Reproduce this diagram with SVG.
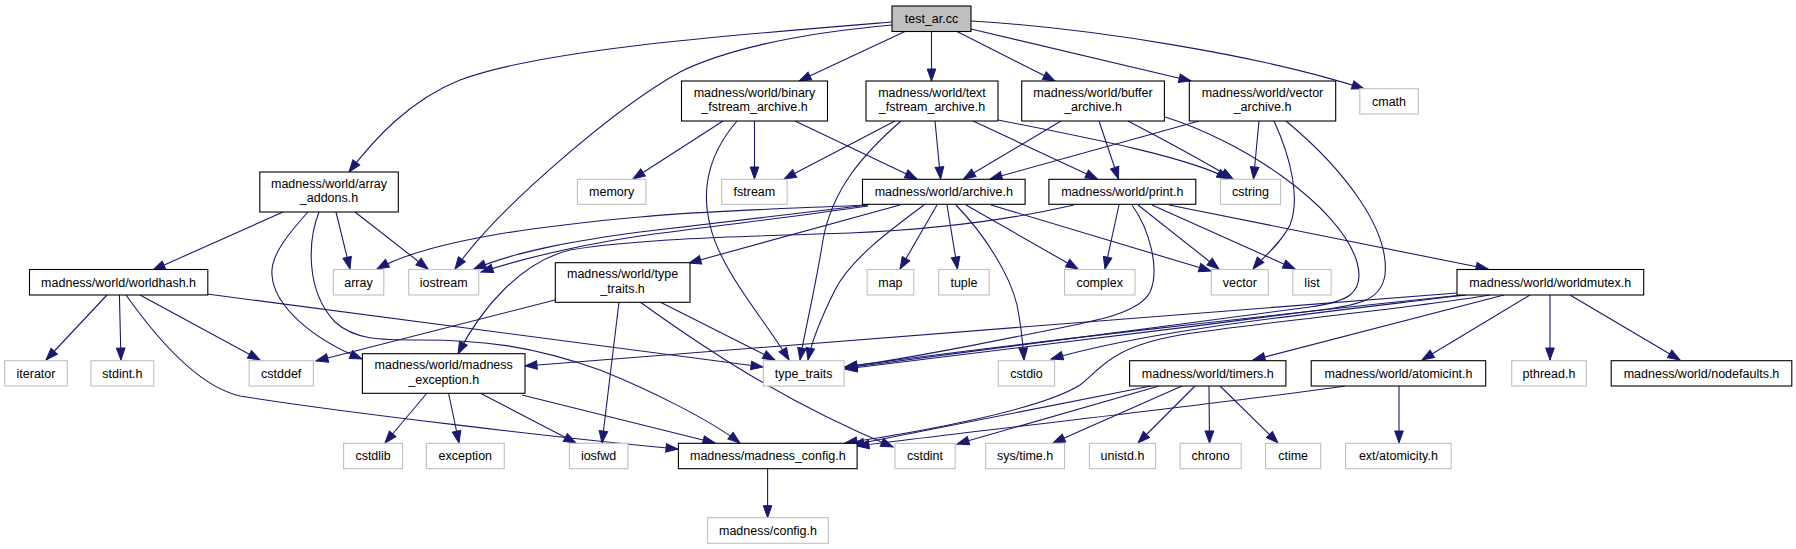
<svg xmlns="http://www.w3.org/2000/svg" width="1796" height="549" viewBox="0 0 1796 549">
<style>
.n rect{fill:#fff;stroke:#000;stroke-width:1.1}
.r rect{fill:#bfbfbf;stroke:#000;stroke-width:1.1}
.x rect{fill:#fff;stroke:#bfbfbf;stroke-width:1.1}
text{font-family:"Liberation Sans",Arial,Helvetica,sans-serif;font-size:12.5px;text-anchor:middle;fill:#000}
#edges path{fill:none;stroke:#191970;stroke-width:1.1;marker-end:url(#a)}
</style>
<defs>
<marker id="a" markerWidth="12" markerHeight="9" refX="12" refY="4.5" orient="auto" markerUnits="userSpaceOnUse" overflow="visible">
<path d="M0,0.2 L12,4.5 L0,8.8 z" fill="#191970" stroke="#191970" stroke-width="1"/>
</marker>
</defs>
<rect width="1796" height="549" fill="#fff"/>
<g id="edges">
<path d="M892,22 C720,36 540,50 460,80 C410,100 375,138 349,172"/>
<path d="M892,25 C790,34 720,52 680,72 C620,105 500,205 455,269"/>
<path d="M906,31 L799,81"/>
<path d="M931.5,31.3 L931.5,81"/>
<path d="M956,31 L1055,81"/>
<path d="M971,29 L1191,81"/>
<path d="M971,21 C1090,28 1260,55 1364,88.7"/>
<path d="M723,121 L633,179"/>
<path d="M754.5,121 L754.5,179"/>
<path d="M795,121 L917,179"/>
<path d="M737,121 C712,150 700,185 710,225 C720,270 765,320 789,360"/>
<path d="M895,121 L784,179"/>
<path d="M935,121 L940.6,179"/>
<path d="M973,121 L1097.5,179"/>
<path d="M998,120 C1100,140 1190,158 1229,179"/>
<path d="M901,121 C862,155 832,190 823,240 C815,290 805,330 800,360"/>
<path d="M1061,121 L963.5,179"/>
<path d="M1099,121 L1118.5,179"/>
<path d="M1128,121 C1170,143 1205,162 1233,179"/>
<path d="M1165,117 C1240,140 1340,205 1357,262 C1366,295 1345,302 1310,307 C1150,328 950,355 845,368"/>
<path d="M1199,121 L990,179"/>
<path d="M1259,121 L1253.5,179"/>
<path d="M1274,121 C1292,160 1300,200 1290,225 C1280,245 1262,258 1253,269"/>
<path d="M1286,121 C1345,170 1390,230 1385,275 C1381,300 1360,305 1320,310 C1150,332 950,357 845,369"/>
<path d="M868,205 C780,209 700,211 640,217 C540,226 430,240 377,269"/>
<path d="M868,205 C800,213 700,225 640,232 C580,240 520,250 474,269"/>
<path d="M868,206 C800,216 700,228 640,236 C580,245 525,258 481,272"/>
<path d="M900,205 L689,263"/>
<path d="M937,205 L900,269"/>
<path d="M947,205 L957.5,269"/>
<path d="M956,205 C985,235 1010,275 1017,305 C1022,330 1023,345 1024,360"/>
<path d="M966,205 L1078,269"/>
<path d="M991,205 L1211,271"/>
<path d="M924,205 C890,230 850,260 835,290 C820,320 812,340 808,360"/>
<path d="M1074,205 C1000,222 920,230 850,233 C760,236 640,238 570,250 C520,262 480,310 458,354"/>
<path d="M1119,205 L1105,269"/>
<path d="M1138,205 L1219,269"/>
<path d="M1152,205 L1295,269"/>
<path d="M1132,205 C1150,230 1160,270 1150,292 C1140,312 1100,320 1060,328 C980,344 900,360 845,367"/>
<path d="M1169,205 L1488,269"/>
<path d="M283,212 L153,270"/>
<path d="M308,212 C290,232 270,255 272,275 C274,305 310,338 362,359"/>
<path d="M319,212 C308,240 305,290 335,322 C355,340 380,340 420,340 C480,340 530,345 600,370 C650,390 710,420 740,443"/>
<path d="M336,212 L350,269"/>
<path d="M355,212 L428,269"/>
<path d="M107,295 L46,360"/>
<path d="M119.4,295 L121,360"/>
<path d="M140,295 L260,360"/>
<path d="M126,295 C165,350 205,388 240,396 C340,412 560,438 678,449"/>
<path d="M207,294 L763,367"/>
<path d="M555,300 L316,361"/>
<path d="M619,302 L602,443"/>
<path d="M640,302 C700,345 780,400 893,447"/>
<path d="M660,302 L775,360"/>
<path d="M427,393 L385,443"/>
<path d="M448.5,393 L459,443"/>
<path d="M480,393 L576,443"/>
<path d="M522,395 L715,443"/>
<path d="M1457,293 L525,366"/>
<path d="M1462,295 C1300,312 1000,345 845,367"/>
<path d="M1466,295 C1300,315 1150,330 1051,359"/>
<path d="M1490,295 C1400,310 1260,322 1180,335 C1110,347 1100,370 1080,385 C1040,410 920,432 845,443"/>
<path d="M1151,386 L852,445"/>
<path d="M1345,386 C1250,400 1000,428 857,446"/>
<path d="M1159,386 L957,444"/>
<path d="M1182,386 L1053,443"/>
<path d="M1195,386 L1138,443"/>
<path d="M1209,386 L1209.5,443"/>
<path d="M1220,386 L1278,443"/>
<path d="M1504,295 L1253,360"/>
<path d="M1530,295 L1422,360"/>
<path d="M1550,295 L1550,360"/>
<path d="M1570,295 L1680,360"/>
<path d="M1399,386 L1399,443"/>
<path d="M767.6,469 L767.6,517.7"/>
</g>
<g id="test_ar" class="r"><rect x="892" y="6" width="79" height="25.5"/><text x="931.5" y="23">test_ar.cc</text></g>
<g id="binary" class="n"><rect x="681.5" y="81" width="146" height="40"/><text x="754.5" y="96.5">madness/world/binary</text><text x="754.5" y="111">_fstream_archive.h</text></g>
<g id="text_fstream" class="n"><rect x="866" y="81" width="132" height="40"/><text x="932" y="96.5">madness/world/text</text><text x="932" y="111">_fstream_archive.h</text></g>
<g id="buffer" class="n"><rect x="1021.7" y="81" width="142.7" height="40"/><text x="1093" y="96.5">madness/world/buffer</text><text x="1093" y="111">_archive.h</text></g>
<g id="vector_archive" class="n"><rect x="1189.3" y="81" width="146.4" height="40"/><text x="1262.5" y="96.5">madness/world/vector</text><text x="1262.5" y="111">_archive.h</text></g>
<g id="cmath" class="x"><rect x="1359.8" y="88.7" width="58.5" height="25.3"/><text x="1389" y="105.8">cmath</text></g>
<g id="array_addons" class="n"><rect x="259.8" y="172" width="138.5" height="40"/><text x="329" y="187.5">madness/world/array</text><text x="329" y="202">_addons.h</text></g>
<g id="memory" class="x"><rect x="577.4" y="179.3" width="68.5" height="25"/><text x="611.6" y="196.2">memory</text></g>
<g id="fstream" class="x"><rect x="721.7" y="179.3" width="65.4" height="25"/><text x="754.4" y="196.2">fstream</text></g>
<g id="archive" class="n"><rect x="862.5" y="179.3" width="162.6" height="25"/><text x="943.8" y="196.2">madness/world/archive.h</text></g>
<g id="print" class="n"><rect x="1048.9" y="179.3" width="146.9" height="25"/><text x="1122.3" y="196.2">madness/world/print.h</text></g>
<g id="cstring" class="x"><rect x="1220.5" y="179.3" width="60.1" height="25"/><text x="1250.5" y="196.2">cstring</text></g>
<g id="worldhash" class="n"><rect x="29.5" y="269.5" width="178.3" height="25.5"/><text x="118.6" y="286.6">madness/world/worldhash.h</text></g>
<g id="array" class="x"><rect x="333.3" y="269.5" width="50.5" height="25.5"/><text x="358.5" y="286.6">array</text></g>
<g id="iostream" class="x"><rect x="408.7" y="269.5" width="70" height="25.5"/><text x="443.7" y="286.6">iostream</text></g>
<g id="type_traits_h" class="n"><rect x="555.3" y="262.7" width="134.7" height="39.6"/><text x="622.6" y="278">madness/world/type</text><text x="622.6" y="292.5">_traits.h</text></g>
<g id="map" class="x"><rect x="867.1" y="269.5" width="46.7" height="25.5"/><text x="890.4" y="286.6">map</text></g>
<g id="tuple" class="x"><rect x="938.7" y="269.5" width="50.5" height="25.5"/><text x="964" y="286.6">tuple</text></g>
<g id="complex" class="x"><rect x="1064.5" y="269.5" width="70.5" height="25.5"/><text x="1099.7" y="286.6">complex</text></g>
<g id="vector" class="x"><rect x="1211.3" y="269.5" width="57" height="25.5"/><text x="1239.8" y="286.6">vector</text></g>
<g id="list" class="x"><rect x="1292.8" y="269.5" width="38.3" height="25.5"/><text x="1312" y="286.6">list</text></g>
<g id="worldmutex" class="n"><rect x="1457" y="269.5" width="186.7" height="25.5"/><text x="1550.3" y="286.6">madness/world/worldmutex.h</text></g>
<g id="iterator" class="x"><rect x="4.6" y="360.7" width="62.7" height="25.3"/><text x="36" y="377.7">iterator</text></g>
<g id="stdint" class="x"><rect x="91" y="360.7" width="62.8" height="25.3"/><text x="122.4" y="377.7">stdint.h</text></g>
<g id="cstddef" class="x"><rect x="249.1" y="360.7" width="64.3" height="25.3"/><text x="281.2" y="377.7">cstddef</text></g>
<g id="madness_exception" class="n"><rect x="362.4" y="353.7" width="162.6" height="39.6"/><text x="443.7" y="369">madness/world/madness</text><text x="443.7" y="383.5">_exception.h</text></g>
<g id="type_traits" class="x"><rect x="763.4" y="360.7" width="80.7" height="25.3"/><text x="803.7" y="377.7">type_traits</text></g>
<g id="cstdio" class="x"><rect x="998.3" y="360.7" width="56.3" height="25.3"/><text x="1026.5" y="377.7">cstdio</text></g>
<g id="timers" class="n"><rect x="1129.6" y="360.7" width="156.3" height="25.3"/><text x="1207.8" y="377.7">madness/world/timers.h</text></g>
<g id="atomicint" class="n"><rect x="1311.2" y="360.7" width="174.5" height="25.3"/><text x="1398.5" y="377.7">madness/world/atomicint.h</text></g>
<g id="pthread" class="x"><rect x="1511.7" y="360.7" width="74.6" height="25.3"/><text x="1549" y="377.7">pthread.h</text></g>
<g id="nodefaults" class="n"><rect x="1611.2" y="360.7" width="180.6" height="25.3"/><text x="1701.5" y="377.7">madness/world/nodefaults.h</text></g>
<g id="cstdlib" class="x"><rect x="343.6" y="443.3" width="59" height="25.4"/><text x="373.1" y="460.4">cstdlib</text></g>
<g id="exception" class="x"><rect x="426.3" y="443.3" width="78" height="25.4"/><text x="465.3" y="460.4">exception</text></g>
<g id="iosfwd" class="x"><rect x="569.4" y="443.3" width="58.5" height="25.4"/><text x="598.6" y="460.4">iosfwd</text></g>
<g id="madness_config" class="n"><rect x="678.4" y="443.3" width="178.7" height="25.4"/><text x="767.8" y="460.4">madness/madness_config.h</text></g>
<g id="cstdint" class="x"><rect x="895" y="443.3" width="60.1" height="25.4"/><text x="925" y="460.4">cstdint</text></g>
<g id="systime" class="x"><rect x="985.7" y="443.3" width="78.8" height="25.4"/><text x="1025.1" y="460.4">sys/time.h</text></g>
<g id="unistd" class="x"><rect x="1089.4" y="443.3" width="66.2" height="25.4"/><text x="1122.5" y="460.4">unistd.h</text></g>
<g id="chrono" class="x"><rect x="1180.1" y="443.3" width="61.1" height="25.4"/><text x="1210.6" y="460.4">chrono</text></g>
<g id="ctime" class="x"><rect x="1265.6" y="443.3" width="55.1" height="25.4"/><text x="1293.1" y="460.4">ctime</text></g>
<g id="atomicity" class="x"><rect x="1345.6" y="443.3" width="105.6" height="25.4"/><text x="1398.4" y="460.4">ext/atomicity.h</text></g>
<g id="config" class="x"><rect x="707.5" y="517.7" width="120.9" height="25.6"/><text x="768" y="534.9">madness/config.h</text></g>
</svg>
